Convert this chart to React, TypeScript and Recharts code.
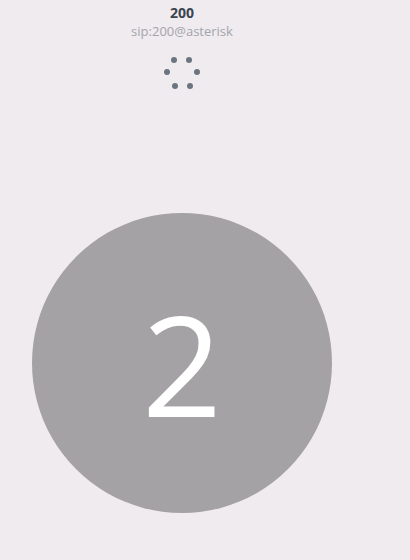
import React from 'react'
import { PieChart, Pie, Cell, ScatterChart, Scatter, XAxis, YAxis } from 'recharts'

const callerName = '200'
const callerUri = 'sip:200@asterisk'
const avatarLabel = '2'
const avatarSlices = [{ name: 'avatar', value: 1 }]
const spinnerX = [174, 189, 167, 197, 175, 190]
const spinnerY = [60, 60, 72, 72, 86, 86]
const spinnerDots = spinnerX.map((x, i) => ({ x, y: spinnerY[i] }))

export default function App() {
  return (
    <div style={{ position: 'absolute', left: 0, top: 0, width: 410, height: 560, background: '#efebee', fontFamily: '"Open Sans", sans-serif', overflow: 'hidden' }}>
      <div style={{ position: 'absolute', top: 3, width: 364, textAlign: 'center', fontWeight: 700, fontSize: 14, color: '#3a4450' }}>{callerName}</div>
      <div style={{ position: 'absolute', top: 22, width: 364, textAlign: 'center', fontSize: 13, color: '#a4a4ab' }}>{callerUri}</div>
      <div style={{ position: 'absolute', left: 0, top: 0 }}>
        <ScatterChart width={410} height={120} margin={{ top: 0, right: 0, bottom: 0, left: 0 }}>
          <XAxis type="number" dataKey="x" domain={[0, 410]} allowDataOverflow hide />
          <YAxis type="number" dataKey="y" domain={[0, 120]} reversed allowDataOverflow hide />
          <Scatter data={spinnerDots} fill="#6b7580" isAnimationActive={false}
            shape={(p: any) => <circle cx={p.cx} cy={p.cy} r={3} fill="#6b7580" />} />
        </ScatterChart>
      </div>
      <div style={{ position: 'absolute', left: 0, top: 0 }}>
        <PieChart width={364} height={726} margin={{ top: 0, right: 0, bottom: 0, left: 0 }}>
          <Pie data={avatarSlices} dataKey="value" cx={182} cy={363} outerRadius={150} innerRadius={0} stroke="none" isAnimationActive={false}>
            <Cell fill="#a4a2a5" />
          </Pie>
        </PieChart>
      </div>
      <div style={{ position: 'absolute', left: 0, top: 268, width: 364, textAlign: 'center', fontSize: 140, lineHeight: '190px', color: '#ffffff', fontWeight: 400 }}>{avatarLabel}</div>
    </div>
  )
}
